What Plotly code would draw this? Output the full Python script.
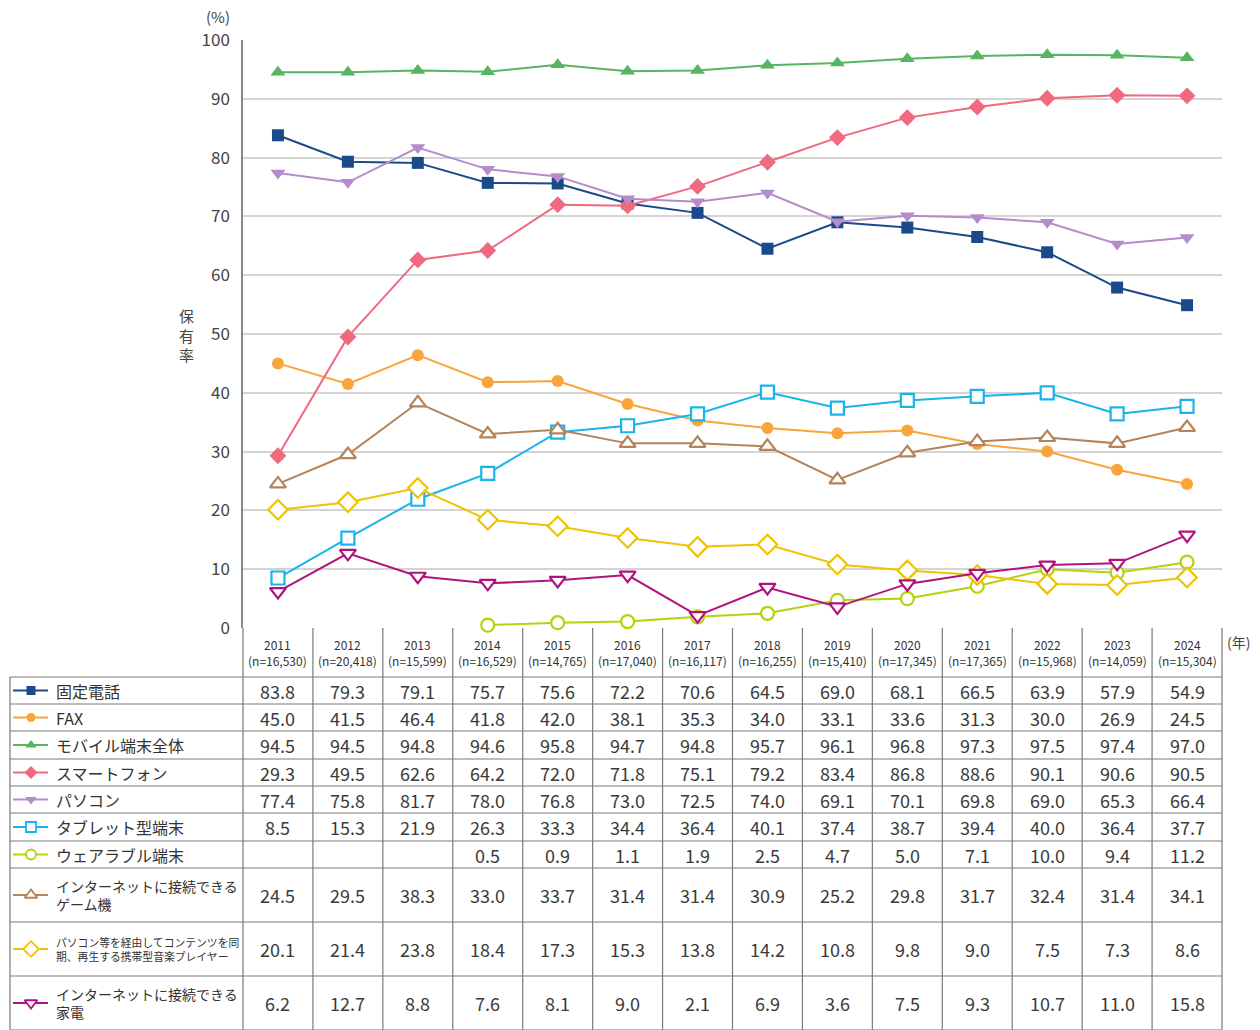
import plotly.graph_objects as go

W, H = 1260, 1030

years = ["2011", "2012", "2013", "2014", "2015", "2016", "2017", "2018", "2019", "2020", "2021", "2022", "2023", "2024"]
n_labels = ["16,530", "20,418", "15,599", "16,529", "14,765", "17,040", "16,117", "16,255", "15,410", "17,345", "17,365", "15,968", "14,059", "15,304"]

names = [
    "固定電話",
    "FAX",
    "モバイル端末全体",
    "スマートフォン",
    "パソコン",
    "タブレット型端末",
    "ウェアラブル端末",
    "インターネットに接続できる<br>ゲーム機",
    "パソコン等を経由してコンテンツを同<br>期、再生する携帯型音楽プレイヤー",
    "インターネットに接続できる<br>家電",
]

fixed_phone = [83.8, 79.3, 79.1, 75.7, 75.6, 72.2, 70.6, 64.5, 69.0, 68.1, 66.5, 63.9, 57.9, 54.9]
fax = [45.0, 41.5, 46.4, 41.8, 42.0, 38.1, 35.3, 34.0, 33.1, 33.6, 31.3, 30.0, 26.9, 24.5]
mobile_all = [94.5, 94.5, 94.8, 94.6, 95.8, 94.7, 94.8, 95.7, 96.1, 96.8, 97.3, 97.5, 97.4, 97.0]
smartphone = [29.3, 49.5, 62.6, 64.2, 72.0, 71.8, 75.1, 79.2, 83.4, 86.8, 88.6, 90.1, 90.6, 90.5]
pc = [77.4, 75.8, 81.7, 78.0, 76.8, 73.0, 72.5, 74.0, 69.1, 70.1, 69.8, 69.0, 65.3, 66.4]
tablet = [8.5, 15.3, 21.9, 26.3, 33.3, 34.4, 36.4, 40.1, 37.4, 38.7, 39.4, 40.0, 36.4, 37.7]
wearable = [None, None, None, 0.5, 0.9, 1.1, 1.9, 2.5, 4.7, 5.0, 7.1, 10.0, 9.4, 11.2]
game = [24.5, 29.5, 38.3, 33.0, 33.7, 31.4, 31.4, 30.9, 25.2, 29.8, 31.7, 32.4, 31.4, 34.1]
music = [20.1, 21.4, 23.8, 18.4, 17.3, 15.3, 13.8, 14.2, 10.8, 9.8, 9.0, 7.5, 7.3, 8.6]
appliance = [6.2, 12.7, 8.8, 7.6, 8.1, 9.0, 2.1, 6.9, 3.6, 7.5, 9.3, 10.7, 11.0, 15.8]

series = [fixed_phone, fax, mobile_all, smartphone, pc, tablet, wearable, game, music, appliance]
colors = ["#1b4a8a", "#f9a53b", "#55b560", "#f0697f", "#b48ccb", "#19b4ea", "#b5d20c", "#b5835a", "#eec400", "#b0137d"]
symbols = ["square", "circle", "triangle-up", "diamond", "triangle-down",
           "square", "circle", "triangle-up", "diamond", "triangle-down"]
hollow = [False] * 5 + [True] * 5
msizes = [12, 12, 13, 13, 13, 13, 13, 14, 15, 14]
label_sizes = [16, 16, 16, 16, 16, 16, 16, 14, 10.8, 14]

# layout geometry (pixels)
X0, X1 = 243, 1222       # plot / table columns
Y100, Y0 = 40, 628       # y pixel of 100 and 0
HDR_BOTTOM = 677
row_bounds = [677, 704, 731, 759, 786, 813, 841, 868, 922, 976, 1030]
TL = 10                  # table left


def px(x):
    return x / W


def py(y):
    return 1 - y / H


def marker_style(i, size, lw=2.2):
    if hollow[i]:
        return dict(symbol=symbols[i], size=size, color="white",
                    line=dict(color=colors[i], width=lw))
    return dict(symbol=symbols[i], size=size, color=colors[i], line=dict(width=0))


fig = go.Figure()
xs = list(range(len(years)))
for i, s in enumerate(series):
    fig.add_trace(go.Scatter(
        x=xs, y=s, mode="lines+markers", name=names[i].replace("<br>", ""),
        line=dict(color=colors[i], width=2),
        marker=marker_style(i, msizes[i]),
        connectgaps=False, showlegend=False, xaxis="x", yaxis="y", cliponaxis=False,
    ))

# legend samples inside the table (separate full-page axis in pixel units)
for i in range(len(series)):
    cy = (row_bounds[i] + row_bounds[i + 1]) / 2
    fig.add_trace(go.Scatter(
        x=[13, 48], y=[cy, cy], mode="lines",
        line=dict(color=colors[i], width=2),
        showlegend=False, xaxis="x2", yaxis="y2", hoverinfo="skip",
    ))
    fig.add_trace(go.Scatter(
        x=[31], y=[cy], mode="markers",
        marker=marker_style(i, msizes[i] - 3, 1.8),
        showlegend=False, xaxis="x2", yaxis="y2", hoverinfo="skip",
    ))

shapes = []
line_col = "#7a7a7a"
for yb in row_bounds:
    shapes.append(dict(type="line", xref="paper", yref="paper", x0=px(TL), x1=px(X1), y0=py(yb), y1=py(yb),
                       line=dict(color=line_col, width=1.2)))
shapes.append(dict(type="line", xref="paper", yref="paper", x0=px(TL), x1=px(TL), y0=py(HDR_BOTTOM), y1=py(H),
                   line=dict(color=line_col, width=1.2)))
colw = (X1 - X0) / len(years)
for k in range(len(years) + 1):
    xx = X0 + k * colw
    shapes.append(dict(type="line", xref="paper", yref="paper", x0=px(xx), x1=px(xx), y0=py(Y0), y1=py(H),
                       line=dict(color=line_col, width=1.2)))

annotations = []
for k, (yr, nl) in enumerate(zip(years, n_labels)):
    cx = X0 + (k + 0.5) * colw
    annotations.append(dict(x=px(cx), y=py(652), xref="paper", yref="paper", showarrow=False,
                            text=f"{yr}<br>(n={nl})", font=dict(size=12, color="#333"),
                            xanchor="center", yanchor="middle"))
for i, s in enumerate(series):
    cy = (row_bounds[i] + row_bounds[i + 1]) / 2
    for k, v in enumerate(s):
        if v is None:
            continue
        cx = X0 + (k + 0.5) * colw
        annotations.append(dict(x=px(cx), y=py(cy), xref="paper", yref="paper", showarrow=False,
                                text=f"{v:.1f}", font=dict(size=18, color="#3a3a3a"),
                                xanchor="center", yanchor="middle"))
    annotations.append(dict(x=px(54), y=py(cy), xref="paper", yref="paper", showarrow=False,
                            text=names[i], font=dict(size=label_sizes[i], color="#333"),
                            xanchor="left", yanchor="middle", align="left"))

annotations += [
    dict(x=px(218), y=py(16), xref="paper", yref="paper", showarrow=False, text="(%)",
         font=dict(size=15, color="#444"), xanchor="center", yanchor="middle"),
    dict(x=px(1238), y=py(642), xref="paper", yref="paper", showarrow=False, text="(年)",
         font=dict(size=14, color="#444"), xanchor="center", yanchor="middle"),
    dict(x=px(186), y=py(335), xref="paper", yref="paper", showarrow=False, text="保<br>有<br>率",
         font=dict(size=15, color="#444"), xanchor="center", yanchor="middle"),
]

fig.update_layout(
    width=W, height=H, autosize=False,
    margin=dict(l=0, r=0, t=0, b=0, pad=0),
    paper_bgcolor="white", plot_bgcolor="rgba(0,0,0,0)",
    font=dict(family="Noto Sans CJK JP, Noto Sans, sans-serif", color="#333"),
    xaxis=dict(domain=[px(X0), px(X1)], range=[-0.5, len(years) - 0.5], showticklabels=False,
               showgrid=False, zeroline=False, showline=False, fixedrange=True, automargin=False),
    yaxis=dict(domain=[py(Y0), py(Y100)], range=[0, 100], dtick=10, tick0=0,
               showgrid=True, gridcolor="#d4d4d4", gridwidth=1.5, zeroline=False,
               showline=True, linecolor="#8a8a8a", linewidth=1.5, automargin=False,
               tickfont=dict(size=17, color="#444"), ticks="", ticklabelstandoff=8),
    xaxis2=dict(domain=[0, 1], range=[0, W], visible=False, anchor="y2", automargin=False),
    yaxis2=dict(domain=[0, 1], range=[H, 0], visible=False, anchor="x2", automargin=False),
    shapes=shapes,
    annotations=annotations,
    hovermode=False,
    showlegend=False,
)

fig.write_html("out.html", config={"displayModeBar": False},
               post_script="document.body.style.margin='0';document.body.style.overflow='hidden';")
